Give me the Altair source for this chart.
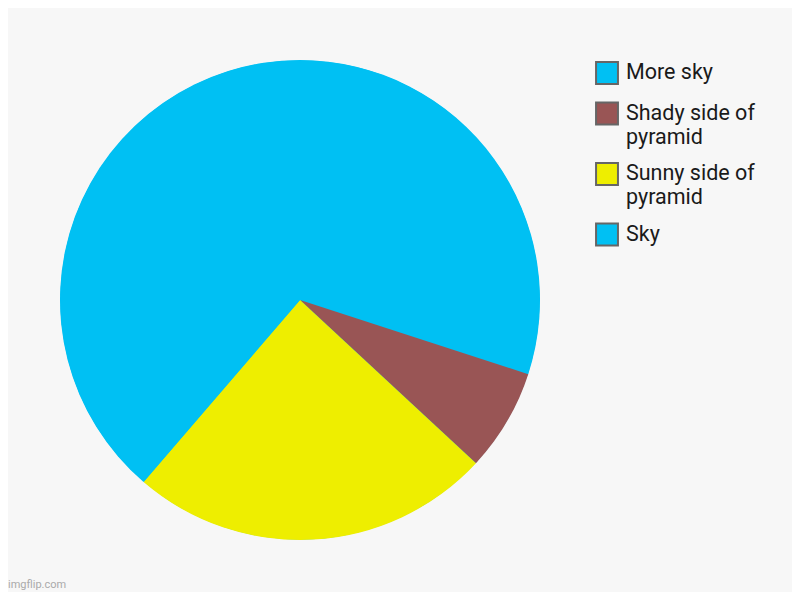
import altair as alt
import pandas as pd

categories = ["More sky", "Shady side of pyramid", "Sunny side of pyramid", "Sky"]
values = [30.0, 6.9, 24.4, 38.7]
colors = ["#00C0F3", "#995555", "#EEEE00", "#00C0F3"]
order = [0, 1, 2, 3]

df = pd.DataFrame({"category": categories, "value": values, "order": order})

label_expr = (
    "datum.label == 'Shady side of pyramid' ? ['Shady side of', 'pyramid'] : "
    "datum.label == 'Sunny side of pyramid' ? ['Sunny side of', 'pyramid'] : datum.label"
)

color_scale = alt.Scale(domain=categories, range=colors)

# full disc underneath so the two sky slices show no seam
base_disc = alt.Chart(df).mark_arc(outerRadius=239.5, color=colors[0]).encode(
    theta=alt.Theta("sum(value):Q"),
    x=alt.value(292),
    y=alt.value(292),
)

pie = alt.Chart(df).mark_arc(outerRadius=240).encode(
    theta=alt.Theta("value:Q", stack=True),
    order=alt.Order("order:Q"),
    x=alt.value(292),
    y=alt.value(292),
    color=alt.Color(
        "category:N",
        sort=categories,
        scale=color_scale,
        legend=alt.Legend(
            title=None,
            orient="none",
            legendX=587,
            legendY=53,
            symbolType="square",
            symbolSize=480,
            symbolStrokeColor="#666666",
            symbolStrokeWidth=2,
            symbolOpacity=1,
            labelFont="Roboto",
            labelFontSize=21.5,
            labelColor="#1A1A1A",
            labelLimit=300,
            labelOffset=7,
            rowPadding=10.5,
            labelExpr=label_expr,
        ),
    ),
)

mark_df = pd.DataFrame({"t": ["imgflip.com"]})
watermark = alt.Chart(mark_df).mark_text(
    align="left", baseline="alphabetic", font="Roboto", fontSize=11, color="#AAAAAA"
).encode(text="t:N", x=alt.value(0), y=alt.value(580))

chart = alt.layer(base_disc, pie, watermark).properties(
    width=784, height=584, autosize=alt.AutoSizeParams(type="none"), padding=0
).configure(
    background="#F7F7F7", style={"guide-label": {"lineHeight": 24}}
).configure_view(stroke=None)

chart.save("out.html", embed_options={"renderer": "svg", "actions": False})
